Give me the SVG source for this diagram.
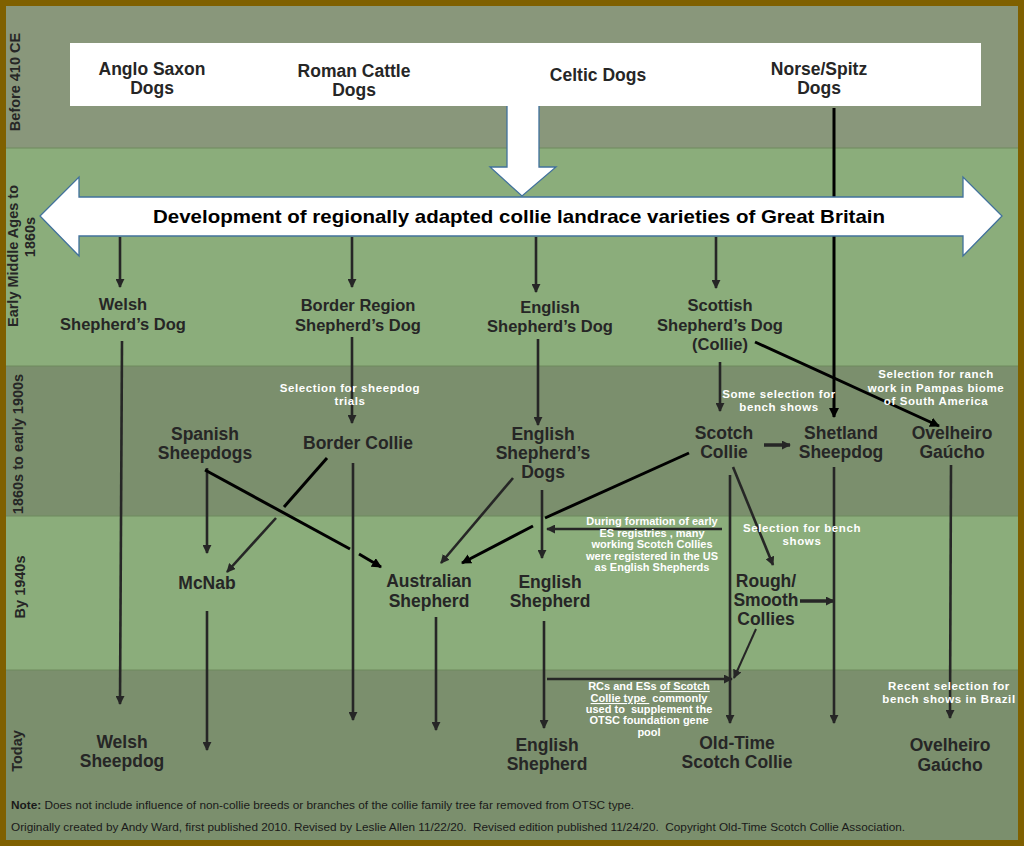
<svg xmlns="http://www.w3.org/2000/svg" width="1024" height="846" viewBox="0 0 1024 846">
<defs>
<marker id="ah" viewBox="0 0 10 10" refX="9" refY="5" markerWidth="9" markerHeight="9" markerUnits="userSpaceOnUse" orient="auto">
<path d="M0,0 L10,5 L0,10 z" fill="#262626"/>
</marker>
<marker id="ahk" viewBox="0 0 10 10" refX="9" refY="5" markerWidth="10" markerHeight="10" markerUnits="userSpaceOnUse" orient="auto">
<path d="M0,0 L10,5 L0,10 z" fill="#000"/>
</marker>
<style>
text{font-family:"Liberation Sans",Arial,sans-serif;}
.n{font-weight:bold;font-size:17.5px;fill:#262626;text-anchor:middle;}
.n2{font-weight:bold;font-size:16.5px;fill:#262626;text-anchor:middle;}
.a{font-weight:bold;font-size:11.5px;fill:#fff;text-anchor:middle;letter-spacing:0.6px;}
.a2{font-weight:bold;font-size:11px;fill:#fff;text-anchor:middle;}
.lb{font-weight:bold;font-size:14.5px;fill:#262626;text-anchor:middle;}
.c{stroke:#262626;stroke-width:2.6;fill:none;marker-end:url(#ah);}
.k{stroke:#000;stroke-width:3;fill:none;}
.ka{stroke:#000;stroke-width:3;fill:none;marker-end:url(#ahk);}
.ft{font-size:11px;fill:#1a1a1a;}
</style>
</defs>

<!-- frame and bands -->
<rect x="0" y="0" width="1024" height="846" fill="#7F6000"/>
<rect x="6" y="6" width="1012" height="142" fill="#89977B"/>
<rect x="6" y="148" width="1012" height="218" fill="#8BAD7B"/>
<rect x="6" y="366" width="1012" height="150" fill="#7B8F6D"/>
<rect x="6" y="516" width="1012" height="154" fill="#8BAD7B"/>
<rect x="6" y="670" width="1012" height="170" fill="#7B8F6D"/>
<g stroke="#6F8A5F" stroke-width="1">
<line x1="6" y1="148" x2="1018" y2="148"/>
<line x1="6" y1="366" x2="1018" y2="366"/>
<line x1="6" y1="516" x2="1018" y2="516"/>
<line x1="6" y1="670" x2="1018" y2="670"/>
</g>

<!-- period labels -->
<g id="periods">
<text class="lb" transform="translate(20,82) rotate(-90)">Before 410 CE</text>
<text class="lb" transform="translate(18,256) rotate(-90)">Early Middle Ages to</text>
<text class="lb" transform="translate(35,237) rotate(-90)">1860s</text>
<text class="lb" transform="translate(23,444) rotate(-90)">1860s to early 1900s</text>
<text class="lb" transform="translate(25,587) rotate(-90)">By 1940s</text>
<text class="lb" transform="translate(22,751) rotate(-90)">Today</text>
</g>

<!-- connectors -->
<g id="connectors">
<line class="ka" x1="834" y1="108" x2="834" y2="417"/>
<line class="c" x1="120" y1="237" x2="120" y2="287"/>
<line class="c" x1="352" y1="237" x2="352" y2="287"/>
<line class="c" x1="536" y1="237" x2="536" y2="292"/>
<line class="c" x1="716" y1="237" x2="716" y2="288"/>
<line class="c" x1="122" y1="341" x2="120" y2="704"/>
<line class="c" x1="352" y1="337" x2="352" y2="423"/>
<line class="c" x1="207" y1="468" x2="207" y2="553"/>
<line class="k" x1="205" y1="470" x2="350" y2="549"/>
<line class="ka" x1="359" y1="554" x2="381" y2="567"/>
<line class="k" x1="327" y1="458" x2="284" y2="507"/>
<line class="c" x1="276" y1="518" x2="227" y2="572"/>
<line class="c" x1="353" y1="463" x2="353" y2="720"/>
<line class="c" x1="207" y1="611" x2="207" y2="750"/>
<line class="c" x1="436" y1="617" x2="436" y2="730"/>
<line class="c" x1="538" y1="339" x2="538" y2="425"/>
<line class="c" x1="513" y1="478" x2="441" y2="563"/>
<line class="k" x1="689" y1="453" x2="545" y2="518"/>
<line class="ka" x1="533" y1="526" x2="462" y2="563"/>
<line class="c" x1="542" y1="490" x2="542" y2="558"/>
<line class="c" x1="722" y1="529" x2="547" y2="529"/>
<line class="c" x1="544" y1="621" x2="544" y2="728"/>
<line class="c" x1="547" y1="679" x2="732" y2="679"/>
<line class="c" x1="720" y1="362" x2="720" y2="411"/>
<line class="c" x1="764" y1="445" x2="790" y2="445" style="stroke-width:3.5"/>
<line class="ka" x1="755" y1="342" x2="939" y2="426"/>
<line class="c" x1="951" y1="465" x2="950" y2="718"/>
<line class="c" x1="834" y1="467" x2="834" y2="723"/>
<line class="c" x1="730" y1="475" x2="730" y2="723"/>
<line class="c" x1="733" y1="467" x2="773" y2="565"/>
<line class="c" x1="800" y1="601" x2="834" y2="601" style="stroke-width:3.5"/>
<line class="c" x1="756" y1="629" x2="734" y2="678" style="stroke-width:2"/>
</g>

<!-- landrace arrow and ancestor box -->
<g id="landrace">
<polygon points="507,100 539,100 539,167 556,167 522,196 490,167 507,167" fill="#fff" stroke="#41719C" stroke-width="1.3"/>
<rect x="70" y="43" width="911" height="63" fill="#fff"/>
<polygon points="40,216 79,177 79,197 963,197 963,177 1002,216 963,256 963,236 79,236 79,256" fill="#fff" stroke="#41719C" stroke-width="1.3"/>
<text x="519" y="223" textLength="732" lengthAdjust="spacingAndGlyphs" style="font-weight:bold;font-size:18.5px;fill:#000;text-anchor:middle">Development of regionally adapted collie landrace varieties of Great Britain</text>
</g>

<g id="anglo-saxon"><text class="n"><tspan x="152" y="75">Anglo Saxon</tspan><tspan x="152" y="94">Dogs</tspan></text></g>
<g id="roman-cattle"><text class="n"><tspan x="354" y="77">Roman Cattle</tspan><tspan x="354" y="96">Dogs</tspan></text></g>
<g id="celtic"><text class="n" x="598" y="81">Celtic Dogs</text></g>
<g id="norse-spitz"><text class="n"><tspan x="819" y="75">Norse/Spitz</tspan><tspan x="819" y="94">Dogs</tspan></text></g>

<g id="welsh-shepherds-dog"><text class="n2"><tspan x="123" y="310">Welsh</tspan><tspan x="123" y="330">Shepherd’s Dog</tspan></text></g>
<g id="border-region"><text class="n2"><tspan x="358" y="311">Border Region</tspan><tspan x="358" y="331">Shepherd’s Dog</tspan></text></g>
<g id="english-shepherds-dog"><text class="n2"><tspan x="550" y="313">English</tspan><tspan x="550" y="332">Shepherd’s Dog</tspan></text></g>
<g id="scottish-shepherds-dog"><text class="n2"><tspan x="720" y="311">Scottish</tspan><tspan x="720" y="331">Shepherd’s Dog</tspan><tspan x="720" y="350">(Collie)</tspan></text></g>

<g id="spanish-sheepdogs"><text class="n"><tspan x="205" y="440">Spanish</tspan><tspan x="205" y="459">Sheepdogs</tspan></text></g>
<g id="border-collie"><text class="n" x="358" y="449">Border Collie</text></g>
<g id="english-shepherds-dogs"><text class="n"><tspan x="543" y="440">English</tspan><tspan x="543" y="459">Shepherd’s</tspan><tspan x="543" y="478">Dogs</tspan></text></g>
<g id="scotch-collie"><text class="n"><tspan x="724" y="439">Scotch</tspan><tspan x="724" y="458">Collie</tspan></text></g>
<g id="shetland-sheepdog"><text class="n"><tspan x="841" y="439">Shetland</tspan><tspan x="841" y="458">Sheepdog</tspan></text></g>
<g id="ovelheiro-1"><text class="n"><tspan x="952" y="439">Ovelheiro</tspan><tspan x="952" y="458">Gaúcho</tspan></text></g>

<g id="mcnab"><text class="n" x="207" y="589">McNab</text></g>
<g id="australian-shepherd"><text class="n"><tspan x="429" y="587">Australian</tspan><tspan x="429" y="607">Shepherd</tspan></text></g>
<g id="english-shepherd-1940"><text class="n"><tspan x="550" y="588">English</tspan><tspan x="550" y="607">Shepherd</tspan></text></g>
<g id="rough-smooth"><text class="n"><tspan x="766" y="587">Rough/</tspan><tspan x="766" y="606">Smooth</tspan><tspan x="766" y="625">Collies</tspan></text></g>

<g id="welsh-sheepdog"><text class="n"><tspan x="122" y="748">Welsh</tspan><tspan x="122" y="767">Sheepdog</tspan></text></g>
<g id="english-shepherd-today"><text class="n"><tspan x="547" y="751">English</tspan><tspan x="547" y="770">Shepherd</tspan></text></g>
<g id="otsc"><text class="n"><tspan x="737" y="749">Old-Time</tspan><tspan x="737" y="768">Scotch Collie</tspan></text></g>
<g id="ovelheiro-today"><text class="n"><tspan x="950" y="751">Ovelheiro</tspan><tspan x="950" y="771">Gaúcho</tspan></text></g>

<!-- annotations -->
<g id="annotations">
<text class="a"><tspan x="350" y="392">Selection for sheepdog</tspan><tspan x="350" y="405">trials</tspan></text>
<text class="a"><tspan x="779" y="398">Some selection for</tspan><tspan x="779" y="411">bench shows</tspan></text>
<text class="a"><tspan x="936" y="378">Selection for ranch</tspan><tspan x="936" y="392">work in Pampas biome</tspan><tspan x="936" y="405">of South America</tspan></text>
<text class="a2"><tspan x="652" y="525">During formation of early</tspan><tspan x="652" y="537">ES registries , many</tspan><tspan x="652" y="548">working Scotch Collies</tspan><tspan x="652" y="560">were registered in the US</tspan><tspan x="652" y="571">as English Shepherds</tspan></text>
<text class="a"><tspan x="802" y="532">Selection for bench</tspan><tspan x="802" y="545">shows</tspan></text>
<text class="a2"><tspan x="649" y="690">RCs and ESs <tspan text-decoration="underline">of Scotch</tspan></tspan><tspan x="649" y="702"><tspan text-decoration="underline">Collie type&#160;</tspan>&#160;commonly</tspan><tspan x="649" y="713">used to&#160; supplement the</tspan><tspan x="649" y="724">OTSC foundation gene</tspan><tspan x="649" y="736">pool</tspan></text>
<text class="a"><tspan x="949" y="690">Recent selection for</tspan><tspan x="949" y="703">bench shows in Brazil</tspan></text>
</g>

<g id="footer">
<text class="ft" x="11" y="809" textLength="623" lengthAdjust="spacingAndGlyphs"><tspan font-weight="bold">Note:</tspan> Does not include influence of non-collie breeds or branches of the collie family tree far removed from OTSC type.</text>
<text class="ft" x="11" y="831" textLength="894" lengthAdjust="spacingAndGlyphs">Originally created by Andy Ward, first published 2010. Revised by Leslie Allen 11/22/20.&#160; Revised edition published 11/24/20.&#160; Copyright Old-Time Scotch Collie Association.</text>
</g>
</svg>
